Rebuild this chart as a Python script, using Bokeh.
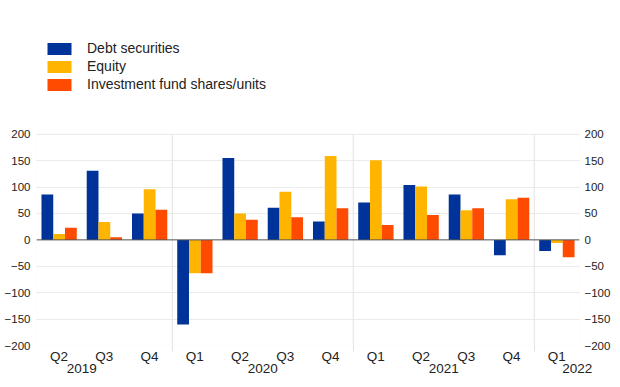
import numpy as np
from bokeh.plotting import figure
from bokeh.models import (Range1d, LinearAxis, FixedTicker, Span, BoxAnnotation)
from bokeh.embed import file_html
from bokeh.resources import INLINE

quarters = ["Q2", "Q3", "Q4", "Q1", "Q2", "Q3", "Q4", "Q1", "Q2", "Q3", "Q4", "Q1"]
years = ["2019", "2020", "2021", "2022"]
year_label_pos = [0.5, 4.5, 8.5, 11.45]
year_breaks = [2.5, 6.5, 10.5]
series_names = ["Debt securities", "Equity", "Investment fund shares/units"]
debt = [86, 131, 50, -160, 155, 61, 35, 71, 104, 86, -29, -21]
equity = [11, 34, 96, -63, 50, 91, 159, 151, 101, 56, 77, -6]
funds = [23, 5, 57, -63, 38, 43, 60, 28, 47, 60, 80, -33]
y_ticks = [-200, -150, -100, -50, 0, 50, 100, 150, 200]
y_min, y_max = -200, 200
y_view_top = 440  # extra room above the chart for the legend

colors = ["#003399", "#ffb400", "#ff4b00"]
FONT = "Liberation Sans"
TXT = "#222222"
GRID = "#ebebeb"
SEP = "#e2e2e2"

x = np.arange(len(quarters))
bw = 0.26
x_lo, x_hi = -0.5, len(quarters) - 0.5

p = figure(frame_width=543, frame_height=338, output_backend="svg",
           toolbar_location=None, x_range=Range1d(x_lo, x_hi),
           y_range=Range1d(y_min, y_view_top), y_axis_location=None, x_axis_location=None,
           min_border_left=36, min_border_right=25, min_border_top=7,
           min_border_bottom=0)
p.outline_line_color = None
p.background_fill_color = "white"

# chart box and grid
p.ygrid.ticker = FixedTicker(ticks=y_ticks)
p.ygrid.grid_line_color = GRID
p.xgrid.visible = False
p.add_layout(BoxAnnotation(left=x_lo, right=x_hi, bottom=y_min, top=y_max,
                           fill_alpha=0, line_color=GRID, line_width=1))
p.segment(x0=year_breaks, y0=[y_min] * len(year_breaks),
          x1=year_breaks, y1=[y_max] * len(year_breaks), line_color=SEP, line_width=1)

for i, (vals, name) in enumerate(zip([debt, equity, funds], series_names)):
    p.vbar(x=x + (i - 1) * bw, top=vals, bottom=0, width=bw,
           fill_color=colors[i], line_color=None, legend_label=name)

p.add_layout(Span(location=0, dimension="width", line_color="#555555", line_width=1))

# y axes
for side in ["left", "right"]:
    ax = LinearAxis(ticker=FixedTicker(ticks=y_ticks))
    ax.axis_line_color = None
    ax.major_tick_line_color = None
    ax.minor_tick_line_color = None
    ax.major_tick_out = 0
    ax.major_tick_in = 0
    ax.minor_tick_out = 0
    ax.minor_tick_in = 0
    ax.major_label_standoff = 6 if side == "left" else 5
    ax.major_label_text_font = FONT
    ax.major_label_text_font_size = "11.5px"
    ax.major_label_text_color = TXT
    p.add_layout(ax, side)

# quarter axis
qax = LinearAxis(ticker=FixedTicker(ticks=list(x), minor_ticks=year_breaks),
                 major_label_overrides={int(i): q for i, q in zip(x, quarters)})
qax.axis_line_color = None
qax.major_tick_line_color = None
qax.major_tick_out = 0
qax.major_tick_in = 0
qax.minor_tick_out = 6
qax.minor_tick_in = 0
qax.minor_tick_line_color = SEP
qax.major_label_standoff = -3
qax.major_label_text_font = FONT
qax.major_label_text_font_size = "13.5px"
qax.major_label_text_color = TXT
p.add_layout(qax, "below")

# year axis
yax = LinearAxis(ticker=FixedTicker(ticks=year_label_pos),
                 major_label_overrides={pos: yr for pos, yr in zip(year_label_pos, years)})
yax.axis_line_color = None
yax.major_tick_line_color = None
yax.minor_tick_line_color = None
yax.major_tick_out = 0
yax.major_tick_in = 0
yax.minor_tick_out = 0
yax.minor_tick_in = 0
yax.major_label_standoff = -3
yax.major_label_text_font = FONT
yax.major_label_text_font_size = "13.5px"
yax.major_label_text_color = TXT
p.add_layout(yax, "below")

lg = p.legend[0]
lg.location = (8, 253)
lg.orientation = "vertical"
lg.border_line_color = None
lg.background_fill_alpha = 0
lg.padding = 0
lg.margin = 0
lg.spacing = 2
lg.glyph_width = 30
lg.glyph_height = 15
lg.label_height = 15
lg.label_standoff = 13
lg.label_text_font = FONT
lg.label_text_font_size = "14px"
lg.label_text_color = TXT

open("out.html", "w").write(file_html(p, INLINE))
